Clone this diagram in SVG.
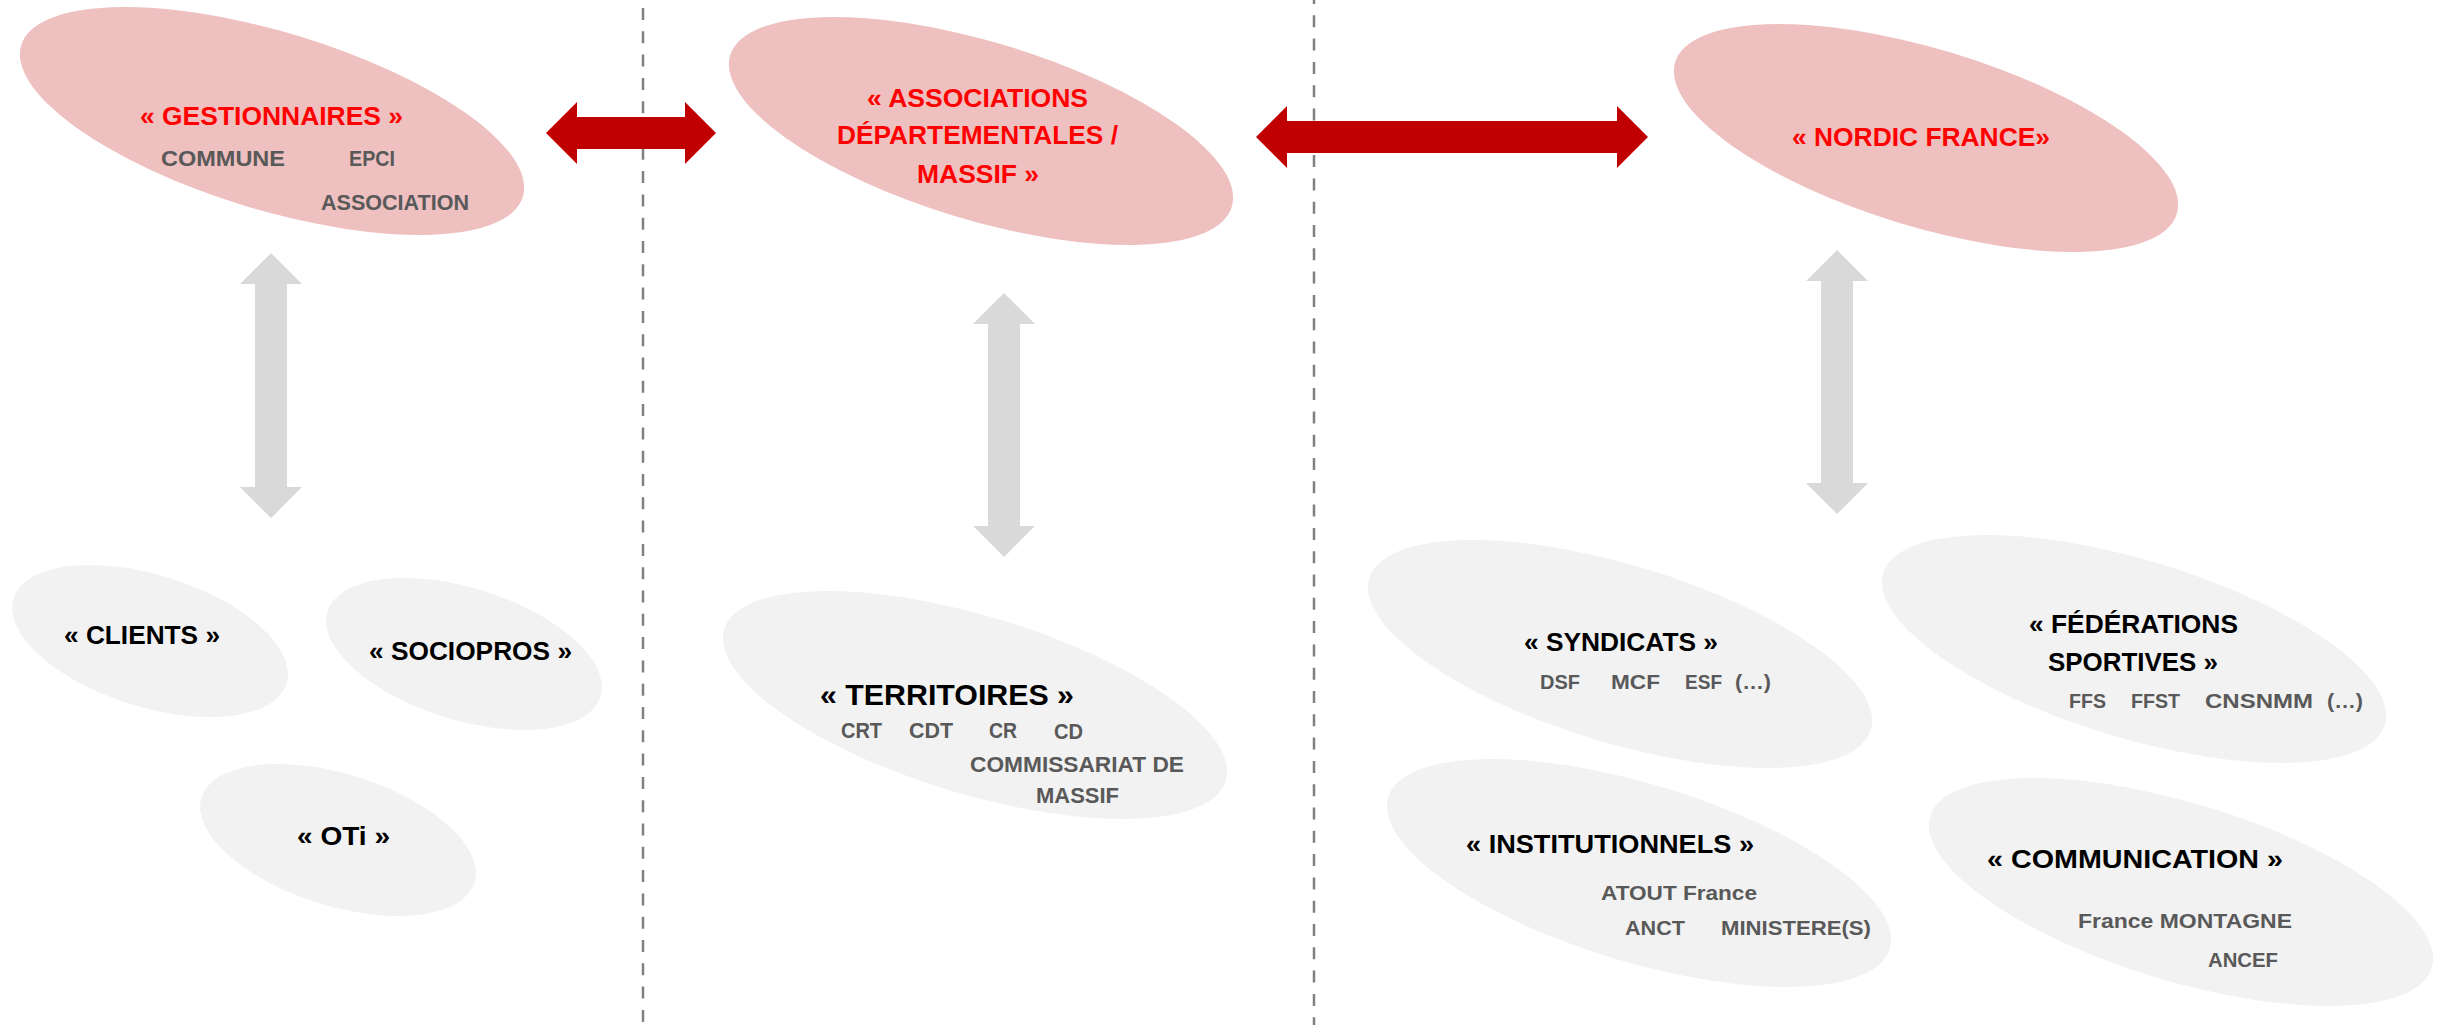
<svg xmlns="http://www.w3.org/2000/svg" width="2445" height="1025" viewBox="0 0 2445 1025">
<style>
text{font-family:"Liberation Sans",Arial,sans-serif;font-weight:bold}
.red{fill:#EFC0C0}
.gray{fill:#F2F2F2}
.rt{fill:#FF0000;font-size:26.5px}
.bt{fill:#000000;font-size:26.5px}
.st{fill:#595959;font-size:22px}
.sr{fill:#595959;font-size:21px}
.div{stroke:#808080;stroke-width:2.5;stroke-dasharray:12 11.3;fill:none}
.ra{fill:#C00000}
.ga{fill:#D9D9D9}
</style>
<defs>
<ellipse id="big" cx="0" cy="0" rx="262" ry="89"/>
<ellipse id="small" cx="0" cy="0" rx="143" ry="66"/>
</defs>
<rect width="2445" height="1025" fill="#FFFFFF"/>
<g id="dividers">
<line class="div" x1="643" y1="8" x2="643" y2="1025"/>
<line class="div" x1="1314" y1="-8" x2="1314" y2="1025"/>
</g>
<g id="n-gestionnaires">
<use href="#big" class="red" transform="translate(272,121) rotate(16.8)"/>
<text class="rt" x="140" y="125" textLength="263" lengthAdjust="spacingAndGlyphs">« GESTIONNAIRES »</text>
<text class="st" x="161" y="166" textLength="124" lengthAdjust="spacingAndGlyphs">COMMUNE</text>
<text class="st" x="349" y="166" textLength="46" lengthAdjust="spacingAndGlyphs">EPCI</text>
<text class="st" x="321" y="210" textLength="148" lengthAdjust="spacingAndGlyphs">ASSOCIATION</text>
</g>
<g id="n-associations">
<use href="#big" class="red" transform="translate(981,131) rotate(16.8)"/>
<text class="rt" x="867" y="107" textLength="221" lengthAdjust="spacingAndGlyphs">« ASSOCIATIONS</text>
<text class="rt" x="837" y="144" textLength="281" lengthAdjust="spacingAndGlyphs">DÉPARTEMENTALES /</text>
<text class="rt" x="917" y="183" textLength="122" lengthAdjust="spacingAndGlyphs">MASSIF »</text>
</g>
<g id="n-nordic">
<use href="#big" class="red" transform="translate(1926,138) rotate(16.8)"/>
<text class="rt" x="1792" y="146" textLength="258" lengthAdjust="spacingAndGlyphs">« NORDIC FRANCE»</text>
</g>
<g id="n-clients">
<use href="#small" class="gray" transform="translate(150,641) rotate(17.3)"/>
<text class="bt" x="64" y="644" textLength="156" lengthAdjust="spacingAndGlyphs">« CLIENTS »</text>
</g>
<g id="n-sociopros">
<use href="#small" class="gray" transform="translate(464,654) rotate(17.3)"/>
<text class="bt" x="369" y="660" textLength="203" lengthAdjust="spacingAndGlyphs">« SOCIOPROS »</text>
</g>
<g id="n-oti">
<use href="#small" class="gray" transform="translate(338,840) rotate(17.3)"/>
<text class="bt" x="297" y="845" textLength="93" lengthAdjust="spacingAndGlyphs">« OTi »</text>
</g>
<g id="n-territoires">
<use href="#big" class="gray" transform="translate(975,705) rotate(16.8)"/>
<text class="bt" x="820" y="705" style="font-size:30px" textLength="254" lengthAdjust="spacingAndGlyphs">« TERRITOIRES »</text>
<text class="st" x="841" y="738" textLength="41" lengthAdjust="spacingAndGlyphs">CRT</text>
<text class="st" x="909" y="738" textLength="44" lengthAdjust="spacingAndGlyphs">CDT</text>
<text class="st" x="989" y="738" textLength="28" lengthAdjust="spacingAndGlyphs">CR</text>
<text class="st" x="1054" y="739" textLength="29" lengthAdjust="spacingAndGlyphs">CD</text>
<text class="st" x="970" y="772" textLength="214" lengthAdjust="spacingAndGlyphs">COMMISSARIAT DE</text>
<text class="st" x="1036" y="803" textLength="83" lengthAdjust="spacingAndGlyphs">MASSIF</text>
</g>
<g id="n-syndicats">
<use href="#big" class="gray" transform="translate(1620,654) rotate(16.8)"/>
<text class="bt" x="1524" y="651" textLength="194" lengthAdjust="spacingAndGlyphs">« SYNDICATS »</text>
<text class="sr" x="1540" y="689" textLength="40" lengthAdjust="spacingAndGlyphs">DSF</text>
<text class="sr" x="1611" y="689" textLength="49" lengthAdjust="spacingAndGlyphs">MCF</text>
<text class="sr" x="1685" y="689" textLength="37" lengthAdjust="spacingAndGlyphs">ESF</text>
<text class="sr" x="1735" y="689" textLength="36" lengthAdjust="spacingAndGlyphs">(…)</text>
</g>
<g id="n-federations">
<use href="#big" class="gray" transform="translate(2134,649) rotate(16.8)"/>
<text class="bt" x="2029" y="633" textLength="209" lengthAdjust="spacingAndGlyphs">« FÉDÉRATIONS</text>
<text class="bt" x="2048" y="671" textLength="170" lengthAdjust="spacingAndGlyphs">SPORTIVES »</text>
<text class="sr" x="2069" y="708" textLength="37" lengthAdjust="spacingAndGlyphs">FFS</text>
<text class="sr" x="2131" y="708" textLength="49" lengthAdjust="spacingAndGlyphs">FFST</text>
<text class="sr" x="2205" y="708" textLength="108" lengthAdjust="spacingAndGlyphs">CNSNMM</text>
<text class="sr" x="2327" y="708" textLength="36" lengthAdjust="spacingAndGlyphs">(…)</text>
</g>
<g id="n-institutionnels">
<use href="#big" class="gray" transform="translate(1639,873) rotate(16.8)"/>
<text class="bt" x="1466" y="853" textLength="288" lengthAdjust="spacingAndGlyphs">« INSTITUTIONNELS »</text>
<text class="sr" x="1601" y="900" textLength="156" lengthAdjust="spacingAndGlyphs">ATOUT France</text>
<text class="sr" x="1625" y="935" textLength="60" lengthAdjust="spacingAndGlyphs">ANCT</text>
<text class="sr" x="1721" y="935" textLength="150" lengthAdjust="spacingAndGlyphs">MINISTERE(S)</text>
</g>
<g id="n-communication">
<use href="#big" class="gray" transform="translate(2181,892) rotate(16.8)"/>
<text class="bt" x="1987" y="868" textLength="296" lengthAdjust="spacingAndGlyphs">« COMMUNICATION »</text>
<text class="sr" x="2078" y="928" textLength="214" lengthAdjust="spacingAndGlyphs">France MONTAGNE</text>
<text class="sr" x="2208" y="967" textLength="70" lengthAdjust="spacingAndGlyphs">ANCEF</text>
</g>
<g id="connectors">
<polygon class="ra" points="546,133 577,102 577,117 685,117 685,102 716,133 685,164 685,149 577,149 577,164"/>
<polygon class="ra" points="1256,137 1287,106 1287,121 1617,121 1617,106 1648,137 1617,168 1617,153 1287,153 1287,168"/>
<polygon class="ga" points="271,253 302,284 287,284 287,487 302,487 271,518 240,487 255,487 255,284 240,284"/>
<polygon class="ga" points="1004,293 1035,324 1020,324 1020,526 1035,526 1004,557 973,526 988,526 988,324 973,324"/>
<polygon class="ga" points="1837,250 1868,281 1853,281 1853,483 1868,483 1837,514 1806,483 1821,483 1821,281 1806,281"/>
</g>
</svg>
